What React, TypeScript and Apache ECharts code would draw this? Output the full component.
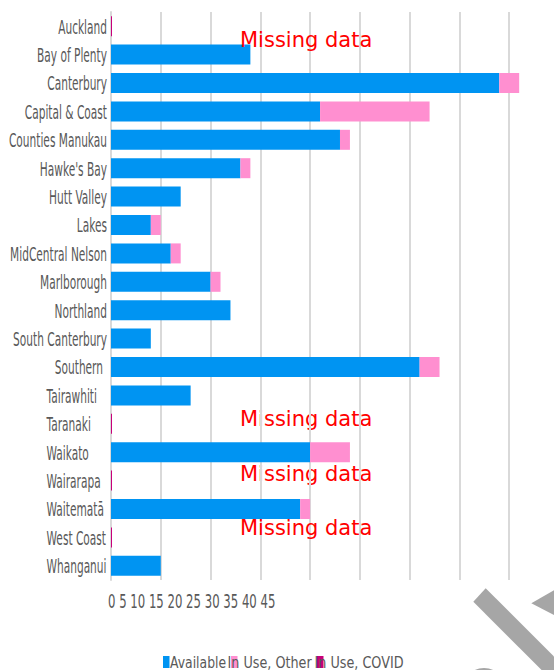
import React, { useEffect, useRef } from "react";
import * as echarts from "echarts";

const categories = [
  "Auckland",
  "Bay of Plenty",
  "Canterbury",
  "Capital & Coast",
  "Counties Manukau",
  "Hawke's Bay",
  "Hutt Valley",
  "Lakes",
  "MidCentral Nelson",
  "Marlborough",
  "Northland",
  "South Canterbury",
  "Southern",
  "Tairawhiti",
  "Taranaki",
  "Waikato",
  "Wairarapa",
  "Waitematā",
  "West Coast",
  "Whanganui",
];

const seriesNames = ["Available", "In Use, Other", "In Use, COVID"];

const available = [null, 14, 39, 21, 23, 13, 7, 4, 6, 10, 12, 4, 31, 8, null, 20, null, 19, null, 5];
const inUseOther = [null, null, 2, 11, 1, 1, null, 1, 1, 1, null, null, 2, null, null, 4, null, 1, null, null];
const inUseCovid = [0, null, null, null, null, null, null, null, null, null, null, null, null, null, 0, null, 0, null, 0, null];

const tickLabels = ["0", "5", "10", "15", "20", "25", "30", "35", "40", "45"];

const missingNote = "Missing data";

const COLORS = ["#0094F2", "#FF8FD0", "#C8007A"];
const FONT = "'DejaVu Sans', Verdana, sans-serif";
const LABEL_GRAY = "#595959";

export default function App() {
  const ref = useRef<HTMLDivElement>(null);

  useEffect(() => {
    if (!ref.current) return;
    const chart = echarts.init(ref.current, undefined, { renderer: "svg" });

    const noteText = (y: number, z: number) => ({
      type: "text",
      x: 240,
      y,
      z,
      style: {
        text: missingNote,
        fill: "#FF0000",
        font: `21px ${FONT}`,
        verticalAlign: "middle",
      },
    });

    const option: any = {
      animation: false,
      backgroundColor: "#ffffff",
      grid: {
        left: 111,
        top: 12,
        height: 568,
        right: -5,
        containLabel: false,
        outerBoundsMode: "none",
      },
      xAxis: {
        type: "value",
        min: 0,
        max: 45,
        interval: 5,
        axisLabel: { show: false },
        axisLine: { show: false },
        axisTick: { show: false },
        splitLine: { show: true, lineStyle: { color: "#D9D9D9", width: 2 } },
      },
      yAxis: {
        type: "category",
        inverse: true,
        data: categories,
        axisTick: { show: false },
        axisLine: { show: true, lineStyle: { color: "#D9D9D9", width: 2 } },
        axisLabel: { show: false },
      },
      series: [
        {
          name: seriesNames[0],
          type: "bar",
          stack: "total",
          barWidth: 20,
          data: available,
          itemStyle: { color: COLORS[0] },
        },
        {
          name: seriesNames[1],
          type: "bar",
          stack: "total",
          barWidth: 20,
          data: inUseOther,
          itemStyle: { color: COLORS[1] },
        },
        {
          name: seriesNames[2],
          type: "bar",
          stack: "total",
          barWidth: 20,
          barMinHeight: 1,
          data: inUseCovid,
          itemStyle: { color: COLORS[2] },
        },
        // Condensed category labels, placed through the category axis
        {
          type: "custom",
          name: "labels",
          silent: true,
          clip: false,
          data: categories.map((c) => [0, c]),
          encode: { x: 0, y: 1 },
          renderItem: (params: any, api: any) => {
            const idx = params.dataIndex;
            const pt = api.coord([api.value(0), api.value(1)]);
            const leftAligned = idx >= 13;
            const isSouthern = categories[idx] === "Southern";
            return {
              type: "text",
              x: leftAligned ? pt[0] - 64.5 : pt[0] - (isSouthern ? 8 : 4),
              y: pt[1] + 0.5,
              scaleX: 0.53,
              style: {
                text: categories[idx],
                fill: LABEL_GRAY,
                font: `20px ${FONT}`,
                align: leftAligned ? "left" : "right",
                verticalAlign: "middle",
              },
            };
          },
        },
      ],
      graphic: [
        // Tick labels drawn compressed as in the reference
        {
          type: "text",
          x: 108,
          y: 601,
          scaleX: 0.585,
          style: {
            text: tickLabels.join(" "),
            fill: LABEL_GRAY,
            font: `20px ${FONT}`,
            verticalAlign: "middle",
          },
        },
        // Missing data notes
        noteText(40, 10),
        noteText(419, -1),
        noteText(474, -1),
        noteText(528, 10),
        // Legend
        ...[
          { rx: 163, tx: 170, sx: 0.775 },
          { rx: 231, tx: 227.5, sx: 0.8 },
          { rx: 317, tx: 314.5, sx: 0.8 },
        ].flatMap((p, i) => [
          {
            type: "rect",
            z: 5,
            shape: { x: p.rx, y: 656, width: 6.5, height: 12 },
            style: { fill: COLORS[i] },
          },
          {
            type: "text",
            x: p.tx,
            y: 662,
            z: 6,
            scaleX: p.sx,
            style: {
              text: seriesNames[i],
              fill: LABEL_GRAY,
              font: `16px ${FONT}`,
              verticalAlign: "middle",
            },
          },
        ]),
        // Watermark fragments
        {
          type: "polygon",
          z: 20,
          shape: { points: [[485.7, 588.3], [473.3, 601.7], [560, 688.4], [572.4, 675]] },
          style: { fill: "#A6A6A6" },
        },
        {
          type: "polygon",
          z: 20,
          shape: { points: [[531.3, 603.3], [556, 589], [556, 616]] },
          style: { fill: "#A6A6A6" },
        },
        {
          type: "ellipse",
          z: 20,
          shape: { cx: 484, cy: 690, rx: 22, ry: 22 },
          style: { fill: "#A6A6A6" },
        },
      ],
    };

    chart.setOption(option);
    return () => chart.dispose();
  }, []);

  return (
    <div
      ref={ref}
      style={{ position: "fixed", left: 0, top: 0, width: 554, height: 670, background: "#fff" }}
    />
  );
}
